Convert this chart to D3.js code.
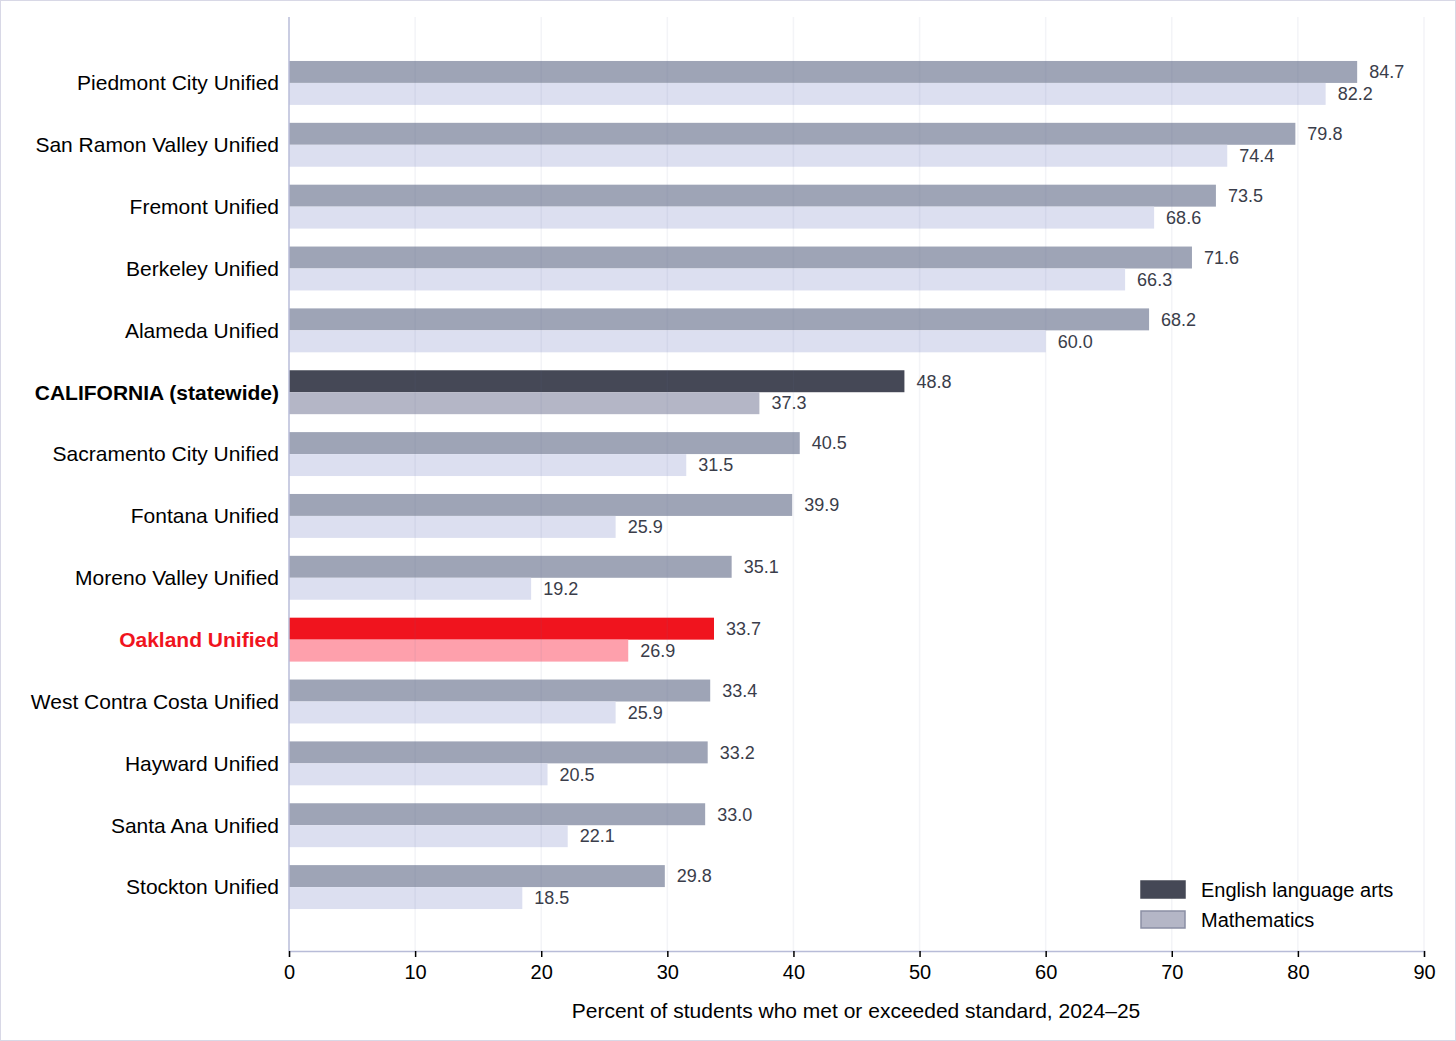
<!DOCTYPE html>
<html><head><meta charset="utf-8">
<script src="https://cdn.jsdelivr.net/npm/d3@7"></script>
<style>
body{margin:0;background:#fff;font-family:"Liberation Sans",Arial,sans-serif;}
svg{display:block}
</style></head><body>
<svg id="c" width="1456" height="1041"></svg>
<script>
const districts = ["Piedmont City Unified","San Ramon Valley Unified","Fremont Unified","Berkeley Unified","Alameda Unified","CALIFORNIA (statewide)","Sacramento City Unified","Fontana Unified","Moreno Valley Unified","Oakland Unified","West Contra Costa Unified","Hayward Unified","Santa Ana Unified","Stockton Unified"];
const ela = [84.7,79.8,73.5,71.6,68.2,48.8,40.5,39.9,35.1,33.7,33.4,33.2,33.0,29.8];
const math = [82.2,74.4,68.6,66.3,60.0,37.3,31.5,25.9,19.2,26.9,25.9,20.5,22.1,18.5];
const xTicks = [0,10,20,30,40,50,60,70,80,90];

const svg = d3.select("#c");
svg.append("rect").attr("x",0.5).attr("y",0.5).attr("width",1455).attr("height",1040)
  .attr("fill","#fff").attr("stroke","#d8d8e6");

const x = d3.scaleLinear().domain([0,90]).range([289,1424]);
const y = d3.scaleBand().domain(districts).range([52,918]).paddingInner(0.29).paddingOuter(0.145);
const bh = y.bandwidth()/2;

function colors(d){
  if (d==="CALIFORNIA (statewide)") return ["#454856","#b4b6c6"];
  if (d==="Oakland Unified") return ["#f0141e","#fea0ac"];
  return ["#9ea4b6","#dcdff0"];
}

const g = svg.append("g");
districts.forEach((d,i)=>{
  const c = colors(d);
  g.append("rect").attr("x",x(0)).attr("y",y(d)).attr("width",x(ela[i])-x(0)).attr("height",bh).attr("fill",c[0]);
  g.append("rect").attr("x",x(0)).attr("y",y(d)+bh).attr("width",x(math[i])-x(0)).attr("height",bh).attr("fill",c[1]);
  g.append("text").attr("x",x(ela[i])+12).attr("y",y(d)+bh/2).attr("dy","0.35em")
    .attr("font-size",18).attr("fill","#3a3d4a").text(ela[i].toFixed(1));
  g.append("text").attr("x",x(math[i])+12).attr("y",y(d)+bh*1.5).attr("dy","0.35em")
    .attr("font-size",18).attr("fill","#3a3d4a").text(math[i].toFixed(1));
});

// grid drawn over bars, faint
svg.append("g").selectAll("line").data(xTicks.slice(1)).join("line")
  .attr("x1",d=>x(d)).attr("x2",d=>x(d)).attr("y1",17).attr("y2",951)
  .attr("stroke","#6a6f9a").attr("stroke-opacity",0.08).attr("stroke-width",1.5);

// axes
svg.append("line").attr("x1",289).attr("x2",289).attr("y1",17).attr("y2",951).attr("stroke","#b8bcd8").attr("stroke-width",1.5);
const xa = svg.append("g").attr("transform","translate(0,951)")
  .call(d3.axisBottom(x).tickValues(xTicks).tickSize(6).tickPadding(8).tickFormat(d3.format("d")));
xa.select(".domain").attr("stroke","#b8bcd8").attr("stroke-width",1.5);
xa.selectAll(".tick line").attr("stroke","#000").attr("stroke-width",1.5).attr("y2",6).attr("y1",0);
xa.selectAll("text").attr("font-size",20).attr("fill","#000").attr("font-family","Liberation Sans, Arial, sans-serif");

svg.append("text").attr("x",856).attr("y",1018).attr("text-anchor","middle").attr("font-size",21)
  .text("Percent of students who met or exceeded standard, 2024\u201325");

// category labels
svg.append("g").selectAll("text").data(districts).join("text")
  .attr("x",279).attr("y",d=>y(d)+bh).attr("dy","0.35em").attr("text-anchor","end")
  .attr("font-size",21)
  .attr("font-weight",d=>d==="CALIFORNIA (statewide)"||d==="Oakland Unified"?"bold":"normal")
  .attr("fill",d=>d==="Oakland Unified"?"#f0141e":"#000")
  .text(d=>d);

// legend
const legend = [["English language arts","#454856","#454856"],["Mathematics","#b4b6c6","#8a8ea4"]];
legend.forEach((l,i)=>{
  const ly = 881+i*30;
  svg.append("rect").attr("x",1141).attr("y",ly).attr("width",44).attr("height",17)
    .attr("fill",l[1]).attr("stroke",l[2]).attr("stroke-width",1.5);
  svg.append("text").attr("x",1201).attr("y",ly+9).attr("dy","0.35em").attr("font-size",20).text(l[0]);
});
</script>
</body></html>
